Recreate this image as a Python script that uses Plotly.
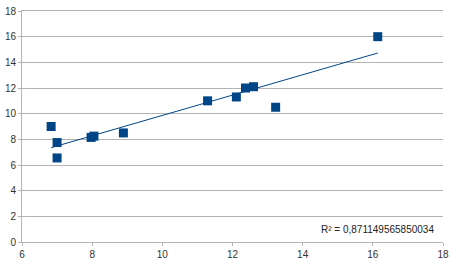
import numpy as np
import plotly.graph_objects as go

x_vals = [6.83, 7.0, 7.0, 7.97, 8.05, 8.89, 11.29, 12.11, 12.37, 12.6, 13.23, 16.14]
y_vals = [9.0, 7.75, 6.55, 8.15, 8.25, 8.5, 11.0, 11.3, 12.0, 12.1, 10.5, 16.0]
r2_label = "R² = 0,871149565850034"
x_ticks = [6, 8, 10, 12, 14, 16, 18]
y_ticks = [0, 2, 4, 6, 8, 10, 12, 14, 16, 18]

slope, intercept = np.polyfit(x_vals, y_vals, 1)
tx = [min(x_vals), max(x_vals)]
ty = [slope * v + intercept for v in tx]

fig = go.Figure()
fig.add_trace(go.Scatter(x=tx, y=ty, mode="lines",
                         line=dict(color="#004586", width=1), hoverinfo="skip"))
fig.add_trace(go.Scatter(x=x_vals, y=y_vals, mode="markers",
                         marker=dict(symbol="square", size=9, color="#004586",
                                     line=dict(width=0))))

fig.add_annotation(x=17.8, y=1.0, xref="x", yref="y", text=r2_label,
                   showarrow=False, xanchor="right", yanchor="middle",
                   font=dict(family="Liberation Sans", size=10, color="#222222"))

fig.update_layout(
    width=463, height=266,
    margin=dict(l=22, r=20, t=11, b=24),
    paper_bgcolor="white", plot_bgcolor="white",
    showlegend=False,
    font=dict(family="Liberation Sans", size=10, color="#333333"),
)
fig.update_xaxes(range=[6, 18], tickvals=x_ticks, showgrid=False, zeroline=False,
                 showline=True, linecolor="#b3b3b3", linewidth=1, mirror=True,
                 ticks="outside", ticklen=3, tickcolor="#b3b3b3", automargin=False)
fig.update_yaxes(range=[0, 18], tickvals=y_ticks, showgrid=True, gridcolor="#b3b3b3",
                 gridwidth=1, zeroline=False, showline=True, linecolor="#b3b3b3",
                 linewidth=1, mirror=False, ticks="outside", ticklen=3, tickcolor="#b3b3b3",
                 automargin=False)

fig.write_html("out.html", config={"displayModeBar": False},
               post_script="document.body.style.margin='0';")
